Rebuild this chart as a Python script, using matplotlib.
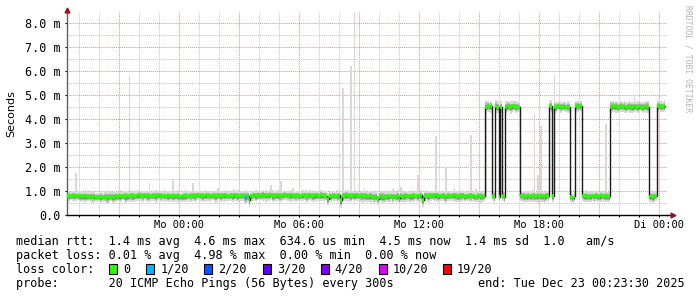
import matplotlib
matplotlib.use('Agg')
import matplotlib.pyplot as plt
from matplotlib.patches import Rectangle
import numpy as np

# SmokePing median rtt, one value per 5 minute step, in 1/100 ms
median_rtt = [
    80, 79, 80, 81, 79, 78, 80, 79, 78, 77, 79, 78, 77, 78, 76, 77, 78, 76, 75, 77,
    76, 75, 77, 76, 74, 76, 77, 75, 76, 78, 77, 79, 78, 80, 79, 77, 78, 80, 81, 79,
    78, 80, 82, 83, 81, 80, 82, 81, 79, 80, 78, 80, 81, 79, 80, 82, 80, 79, 81, 80,
    79, 78, 80, 79, 77, 79, 80, 78, 76, 78, 79, 80, 79, 78, 80, 81, 79, 80, 82, 80,
    81, 79, 80, 82, 81, 80, 79, 81, 80, 78, 80, 81, 79, 80, 82, 81, 80, 79, 81, 80,
    82, 81, 80, 79, 81, 80, 78, 77, 80, 62, 79, 81, 82, 80, 83, 82, 81, 84, 83, 82,
    81, 83, 82, 80, 79, 81, 82, 80, 81, 83, 84, 82, 81, 80, 82, 81, 79, 80, 81, 78,
    80, 82, 83, 81, 80, 82, 81, 79, 80, 82, 81, 80, 83, 82, 80, 81, 68, 80, 78, 80,
    81, 79, 80, 82, 61, 80, 81, 83, 82, 80, 79, 81, 80, 82, 81, 79, 80, 78, 80, 79,
    77, 79, 78, 76, 74, 77, 68, 76, 79, 77, 75, 76, 78, 77, 79, 76, 78, 77, 80, 70,
    79, 77, 78, 80, 79, 76, 78, 80, 81, 79, 78, 80, 82, 64, 80, 81, 79, 78, 80, 81,
    80, 82, 79, 78, 80, 81, 79, 77, 80, 81, 79, 80, 82, 80, 78, 79, 81, 80, 78, 77,
    79, 80, 81, 79, 78, 76, 80, 79, 78, 77, 79,
    452, 455, 450, 453,
    78, 76,
    454, 451,
    77,
    452,
    80, 74,
    451, 454, 452, 450, 453, 455, 451, 452, 450,
    79, 80, 78, 77, 79, 80, 78, 81, 79, 77, 78, 80, 79, 78, 76, 79, 80,
    453, 455,
    78,
    452, 450, 454, 453, 451, 452, 455, 450, 452, 451,
    76, 70, 78,
    453, 455, 452, 456,
    79, 78, 80, 77, 76, 78, 79, 77, 80, 78, 77, 79, 80, 78, 79, 77, 78,
    452, 454, 451, 453, 450, 452, 455, 451, 453, 449, 452, 454, 451, 450, 453, 452,
    451, 454, 452, 450, 451, 453, 452,
    77, 78, 76, 79, 78,
    454, 456, 453, 452, 455,
]

# spread of the 20 pings around the median, in 1/100 ms
smoke_spread = [
    10, 12, 9, 11, 13, 10, 9, 12, 11, 10, 14, 12, 10, 9, 11, 13, 12, 10, 11, 12,
    13, 11, 10, 12, 14, 11, 10, 12, 13, 11, 10, 12, 11, 9, 12, 14, 11, 10, 13, 12,
    11, 10, 12, 13, 11, 12, 10, 11, 13, 12, 10, 11, 12, 14, 11, 10, 12, 11, 13, 10,
    12, 11, 10, 13, 12, 11, 14, 12, 10, 11, 12, 13, 11, 10, 12, 11, 13, 12, 10, 11,
    11, 12, 10, 13, 11, 12, 11, 10, 12, 13, 11, 10, 12, 11, 13, 12, 10, 11, 12, 13,
    12, 11, 13, 10, 12, 11, 14, 16, 12, 15, 11, 12, 10, 13, 11, 12, 10, 12, 11, 13,
    11, 12, 10, 13, 12, 11, 12, 14, 13, 11, 12, 10, 11, 12, 13, 11, 10, 12, 11, 12,
    10, 12, 11, 13, 12, 10, 11, 12, 13, 11, 12, 10, 13, 11, 12, 10, 14, 11, 12, 11,
    12, 11, 13, 10, 15, 12, 11, 12, 13, 11, 12, 10, 14, 12, 11, 10, 12, 13, 11, 12,
    11, 12, 13, 11, 14, 12, 13, 11, 12, 14, 13, 11, 12, 13, 11, 12, 10, 12, 13, 12,
    12, 11, 13, 12, 10, 12, 11, 13, 12, 11, 12, 10, 13, 15, 12, 11, 12, 13, 11, 10,
    12, 11, 13, 12, 10, 11, 12, 13, 11, 12, 10, 11, 13, 12, 11, 12, 13, 11, 12, 10,
    11, 12, 13, 11, 12, 10, 12, 11, 13, 12, 11, 14, 12, 11, 13, 10, 12, 14, 13, 11,
    13, 11, 12, 13, 12, 10, 14, 12, 11, 13, 12, 11, 10, 12, 13, 11, 12, 10, 11, 13,
    12, 11, 13, 10, 12, 11, 12, 13, 11, 12, 13, 11, 14, 12, 11, 13, 12, 10, 12, 11,
    13, 12, 11, 10, 12, 13, 12, 11, 12, 10, 11, 13, 12, 11, 12, 10, 13, 11, 12, 11,
    12, 10, 11, 13, 12, 11, 14, 12, 11, 13, 12, 10, 12, 11, 13, 12, 11, 14, 12, 13,
    12, 11, 13, 12, 10, 12, 11, 13, 14, 12, 11, 13, 12, 10, 13, 12, 11, 12, 13,
]

# single slow pings: sample index -> max rtt (1/100 ms)
spikes = {5: 176, 12: 105, 20: 100, 37: 579, 49: 135, 55: 110, 63: 150, 75: 135,
          90: 112, 100: 108, 112: 104, 122: 125, 128: 143, 135: 112, 145: 110,
          165: 530, 170: 620, 172: 840, 178: 108, 195: 110, 200: 115, 210: 167,
          215: 105, 221: 330, 227: 200, 232: 112, 242: 335, 245: 108, 280: 420,
          282: 167, 284: 370, 292: 583, 323: 378, 340: 496, 356: 475}
# samples whose fastest ping is far below the median
smoke_floor = {251: 78}
# lost pings per sample (out of 20)
loss_at = {107: 1}

loss_labels = ['0', '1/20', '2/20', '3/20', '4/20', '10/20', '19/20']
loss_limits = [0, 1, 2, 3, 4, 10, 19]
loss_colors = ['#26ff00', '#00b8ff', '#0059ff', '#5e00ff', '#7e00ff', '#dd00ff', '#ff0000']

y_ticks = [0, 1, 2, 3, 4, 5, 6, 7, 8]
y_tick_labels = ['0.0', '1.0 m', '2.0 m', '3.0 m', '4.0 m', '5.0 m', '6.0 m', '7.0 m', '8.0 m']
x_ticks = [24, 30, 36, 42, 48]
x_tick_labels = ['Mo 00:00', 'Mo 06:00', 'Mo 12:00', 'Mo 18:00', 'Di 00:00']

# hours since Sunday 00:00, window ends Tue 00:23:30
t_start = 18 + 23.5 / 60
t_stop = t_start + 30
step = 5 / 60

mono = 'DejaVu Sans Mono'

n = len(median_rtt)
t_left = t_start + np.arange(n) * step
med = np.array(median_rtt) / 100.0
spread = np.array(smoke_spread[:n]) / 100.0

light_lo = med - 2.0 * spread
light_hi = med + 1.7 * spread
for i, v in spikes.items():
    light_hi[i] = max(light_hi[i], v / 100.0)
for i, v in smoke_floor.items():
    light_lo[i] = v / 100.0

cols = []
for i in range(n):
    c = loss_at.get(i, 0)
    k = max(j for j, lim in enumerate(loss_limits) if c >= lim)
    cols.append(loss_colors[k])

fig = plt.figure(figsize=(6.97, 2.97), dpi=100)
ax = fig.add_axes([67 / 697, 82 / 297, 600 / 697, 203 / 297])
ax.set_xlim(t_start, t_stop)
ax.set_ylim(0, 203 / 24)

# grid
for h in range(19, 49):
    major = h % 3 == 0
    ax.axvline(h, color='#e68c8c' if major else '#c4c4c4', lw=0.7,
               ls=(0, (1, 1)), zorder=0.5)
for k in range(1, 17):
    y = k * 0.5
    ax.axhline(y, color='#e68c8c' if k % 2 == 0 else '#c4c4c4', lw=0.7,
               ls=(0, (1, 1)), zorder=0.5)

# smoke
ax.bar(t_left, light_hi - light_lo, bottom=light_lo, width=step * 1.02,
       align='edge', color='#d8d8d8', linewidth=0, zorder=1)
ax.bar(t_left, 2.2 * spread, bottom=med - 1.3 * spread, width=step * 1.02,
       align='edge', color='#b0b0b0', linewidth=0, zorder=1.1)
ax.bar(t_left, 1.4 * spread, bottom=med - 0.9 * spread, width=step * 1.02,
       align='edge', color='#888888', linewidth=0, zorder=1.2)

# median
ax.step(np.append(t_left, t_left[-1] + step), np.append(med, med[-1]),
        where='post', color='#1a1a1a', lw=1.0, zorder=2)
ax.hlines(med, t_left, t_left + step, colors=cols, lw=2.6, capstyle='butt', zorder=3)

# axes
for side in ['top', 'right']:
    ax.spines[side].set_visible(False)
ax.spines['left'].set_color('#606060')
ax.spines['bottom'].set_color('#000000')
ax.spines['left'].set_linewidth(1.0)
ax.spines['bottom'].set_linewidth(1.0)
ax.plot([0, 0], [1.0, 1.01], color='#606060', lw=1.0, transform=ax.transAxes, clip_on=False)
ax.plot([1.0, 1.006], [0, 0], color='#000000', lw=1.0, transform=ax.transAxes, clip_on=False)
ax.plot([0], [1.0 + 2.5 / 203], marker='^', color='#8b1a1a', markersize=3.5,
        transform=ax.transAxes, clip_on=False, zorder=5)
ax.plot([1.0 + 6 / 600], [0], marker='>', color='#8b1a1a', markersize=3.5,
        transform=ax.transAxes, clip_on=False, zorder=5)

ax.set_yticks(y_ticks)
ax.set_yticklabels(y_tick_labels, family=mono, fontsize=8.5)
ax.set_xticks(x_ticks)
ax.set_xticklabels(x_tick_labels, family=mono, fontsize=7.5)
ax.set_xticks(np.arange(19, 49), minor=True)
ax.tick_params(axis='y', length=1.5, width=0.8, pad=3.2, colors='#000000')
ax.tick_params(axis='x', which='both', length=1.5, width=0.8, pad=2.2)

fig.text(11 / 697, 1 - 114 / 297, 'Seconds', rotation=90, ha='center', va='center',
         family='DejaVu Sans', fontsize=8)
fig.text(688 / 697, 1 - 5 / 297, 'RRDTOOL / TOBI OETIKER', rotation=270, ha='center',
         va='top', family=mono, fontsize=5.8, color='#b4b4b4')

# legend
fs = 8.5
rows = [242, 255.5, 269.5, 283.7]
fig.text(16 / 697, 1 - rows[0] / 297,
         'median rtt:  1.4 ms avg  4.6 ms max  634.6 us min  4.5 ms now  1.4 ms sd  1.0   am/s',
         family=mono, fontsize=fs, va='center')
fig.text(16 / 697, 1 - rows[1] / 297,
         'packet loss: 0.01 % avg  4.98 % max  0.00 % min  0.00 % now',
         family=mono, fontsize=fs, va='center')
fig.text(16 / 697, 1 - rows[2] / 297, 'loss color:', family=mono, fontsize=fs, va='center')
box_left = [108.5, 146, 204, 262.5, 320.5, 378.5, 442.7]
for bx, lab, col in zip(box_left, loss_labels, loss_colors):
    fig.add_artist(Rectangle((bx / 697, 1 - 274.3 / 297), 8 / 697, 10 / 297,
                             transform=fig.transFigure, facecolor=col,
                             edgecolor='#000000', lw=0.8))
    fig.text((bx + 14.3) / 697, 1 - rows[2] / 297, lab, family=mono, fontsize=fs, va='center')
fig.text(16 / 697, 1 - rows[3] / 297,
         'probe:       20 ICMP Echo Pings (56 Bytes) every 300s',
         family=mono, fontsize=fs, va='center')
fig.text(478 / 697, 1 - rows[3] / 297, 'end: Tue Dec 23 00:23:30 2025',
         family=mono, fontsize=fs, va='center')

fig.savefig('out.png', dpi=100, facecolor='white')
